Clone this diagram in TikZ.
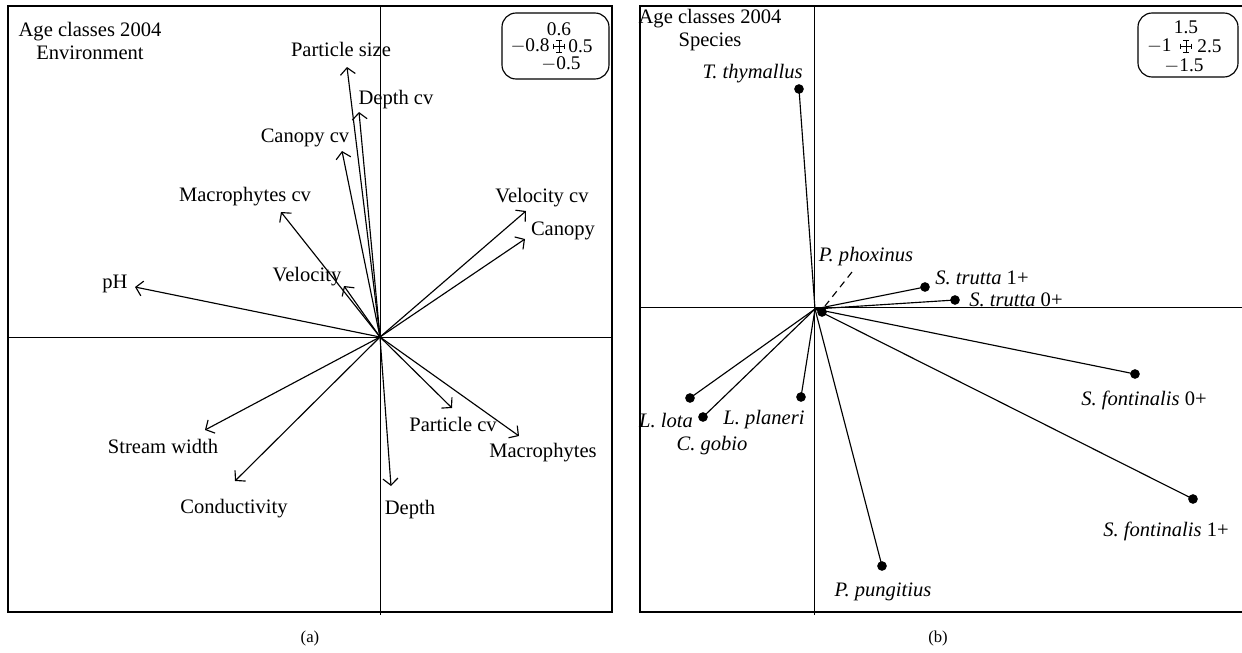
\documentclass[tikz,border=0pt]{standalone}
\usepackage{fontspec}
\setmainfont{Liberation Serif}
\usetikzlibrary{arrows.meta,calc}
\begin{document}
\begin{tikzpicture}[x=0.02cm,y=-0.02cm,
  frame/.style={line width=0.75pt},
  axis/.style={line width=0.55pt},
  vec/.style={line width=0.65pt,-{Straight Barb[length=3.8pt,width=8.5pt,line width=0.65pt]}},
  lab/.style={inner sep=0pt,font=\fontsize{11.7}{13}\selectfont},
  sp/.style={inner sep=0pt,font=\fontsize{11.7}{13}\selectfont},
  dot/.style={circle,fill=black,inner sep=0pt,minimum size=5.5pt},
  link/.style={line width=0.65pt},
  legend/.style={draw,line width=0.65pt,rounded corners=8pt},
  legtxt/.style={inner sep=0pt,font=\fontsize{11}{12}\selectfont},
  captxt/.style={inner sep=0pt,font=\fontsize{9.5}{10}\selectfont}]
\useasboundingbox (0,0) rectangle (1242,653);

% ---------------- panel (a) ----------------
\draw[frame] (8,6) rectangle (612,612);
\draw[axis] (380,6) -- (380,615);
\draw[axis] (8,337) -- (612,337);
\coordinate (Oa) at (380,337);

\node[lab,align=center] (ta) at (90,41) {Age classes 2004\\Environment};

\draw[legend] (502,13) rectangle (609,79);
\node[legtxt] (la1) at (559,29) {0.6};
\node[legtxt,anchor=east] (la2) at (550,46) {$-$0.8};
\node[legtxt,anchor=west] (la3) at (568,46) {0.5};
\node[legtxt] (la4) at (561,64) {$-$0.5};
\coordinate (ca) at (559,46);
\draw[line width=0.5pt] ($(ca)+(-5.5,0)$) -- ($(ca)+(5.5,0)$) ($(ca)+(0,-6)$) -- ($(ca)+(0,6)$);
\draw[line width=0.5pt] ($(ca)+(-5.5,-2.5)$) -- ($(ca)+(-5.5,2.5)$) ($(ca)+(5.5,-2.5)$) -- ($(ca)+(5.5,2.5)$)
  ($(ca)+(-3,-6)$) -- ($(ca)+(3,-6)$) ($(ca)+(-3,6)$) -- ($(ca)+(3,6)$);

\coordinate (tPS) at (347,67);
\coordinate (tDC) at (359,112);
\coordinate (tCC) at (342,151);
\coordinate (tMC) at (281,212);
\coordinate (tV) at (344,286);
\coordinate (tpH) at (135,287);
\coordinate (tVC) at (526,211);
\coordinate (tCa) at (525,239);
\coordinate (tSW) at (205,430);
\coordinate (tCo) at (235,481);
\coordinate (tDe) at (391,486);
\coordinate (tPC) at (452,408);
\coordinate (tMa) at (519,436);

\foreach \t in {tPS,tDC,tCC,tMC,tV,tpH,tVC,tCa,tSW,tCo,tDe,tPC,tMa}
  \draw[vec] (Oa) -- (\t);

\node[lab] (nPS) at (341,49) {Particle size};
\node[lab] (nDC) at (396,100) {Depth cv};
\node[lab] (nCC) at (305,138) {Canopy cv};
\node[lab] (nMC) at (245,197) {Macrophytes cv};
\node[lab] (nV) at (307,277) {Velocity};
\node[lab] (npH) at (115,284) {pH};
\node[lab] (nVC) at (542,198) {Velocity cv};
\node[lab] (nCa) at (563,231) {Canopy};
\node[lab] (nSW) at (163,446) {Stream width};
\node[lab] (nCo) at (234,509) {Conductivity};
\node[lab] (nDe) at (410,510) {Depth};
\node[lab] (nPC) at (453,424) {Particle cv};
\node[lab] (nMa) at (543,453) {Macrophytes};

\node[captxt] (capa) at (310,638) {(a)};

% ---------------- panel (b) ----------------
\draw[frame] (1242,6) -- (640,6) -- (640,612) -- (1242,612);
\draw[axis] (814,6) -- (814,615);
\draw[axis] (640,307) -- (1242,307);
\coordinate (Ob) at (815,309);

\node[lab,align=center] (tb) at (710,30) {Age classes 2004\\Species};

\draw[legend] (1138,13) rectangle (1238,77);
\node[legtxt] (lb1) at (1186,27) {1.5};
\node[legtxt,anchor=east] (lb2) at (1172,46) {$-$1};
\node[legtxt,anchor=west] (lb3) at (1197,46) {2.5};
\node[legtxt] (lb4) at (1184,66) {$-$1.5};
\coordinate (cb) at (1186,46);
\draw[line width=0.5pt] ($(cb)+(-5.5,0)$) -- ($(cb)+(5.5,0)$) ($(cb)+(0,-6)$) -- ($(cb)+(0,6)$);
\draw[line width=0.5pt] ($(cb)+(-5.5,-2.5)$) -- ($(cb)+(-5.5,2.5)$) ($(cb)+(5.5,-2.5)$) -- ($(cb)+(5.5,2.5)$)
  ($(cb)+(-3,-6)$) -- ($(cb)+(3,-6)$) ($(cb)+(-3,6)$) -- ($(cb)+(3,6)$);

\node[dot] (dTT) at (799,89) {};
\node[dot] (dPP) at (822,312) {};
\node[dot] (dS1) at (925,287) {};
\node[dot] (dS0) at (955,300) {};
\node[dot] (dLL) at (690,398) {};
\node[dot] (dCG) at (703,417) {};
\node[dot] (dLP) at (801,397) {};
\node[dot] (dF0) at (1135,374) {};
\node[dot] (dF1) at (1193,499) {};
\node[dot] (dPu) at (882,566) {};

\foreach \d in {dTT,dS1,dS0,dLL,dCG,dLP,dF0,dF1,dPu}
  \draw[link] (Ob) -- (\d.center);

\coordinate (ph1) at (852,272);
\coordinate (ph2) at (825,306);
\draw[link,dashed,dash pattern=on 4pt off 3pt] (ph1) -- (ph2);

\node[sp,anchor=east] (nTT) at (803,74) {\textit{T. thymallus}};
\node[sp] (nPP) at (866,257) {\textit{P. phoxinus}};
\node[sp,anchor=west] (nS1) at (935,278) {\textit{S. trutta} 1+};
\node[sp,anchor=west] (nS0) at (969,300) {\textit{S. trutta} 0+};
\node[sp] (nLL) at (666,421) {\textit{L. lota}};
\node[sp] (nCG) at (712,446) {\textit{C. gobio}};
\node[sp] (nLP) at (764,420) {\textit{L. planeri}};
\node[sp] (nF0) at (1144,400) {\textit{S. fontinalis} 0+};
\node[sp] (nF1) at (1166,531) {\textit{S. fontinalis} 1+};
\node[sp] (nPu) at (883,592) {\textit{P. pungitius}};

\node[captxt] (capb) at (938,638) {(b)};
\end{tikzpicture}
\end{document}
